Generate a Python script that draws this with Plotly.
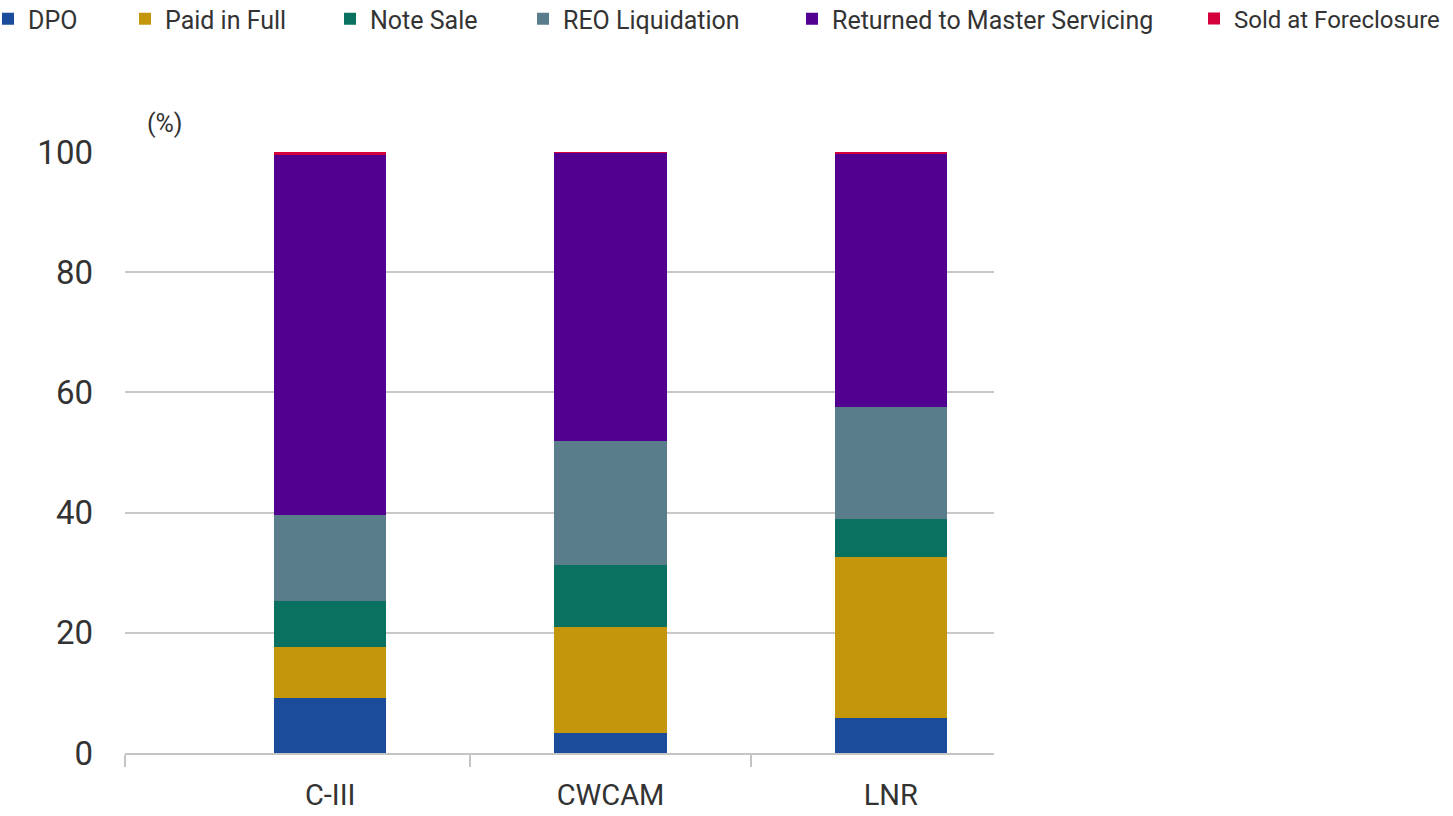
import plotly.graph_objects as go

categories = ["C-III", "CWCAM", "LNR"]
series_names = ["DPO", "Paid in Full", "Note Sale", "REO Liquidation",
                "Returned to Master Servicing", "Sold at Foreclosure"]
dpo = [9.2, 3.3, 5.8]
paid_in_full = [8.4, 17.7, 26.8]
note_sale = [7.7, 10.3, 6.3]
reo_liquidation = [14.3, 20.6, 18.7]
returned_master = [59.9, 48.0, 42.0]
sold_foreclosure = [0.5, 0.1, 0.4]
y_ticks = [0, 20, 40, 60, 80, 100]

values = [dpo, paid_in_full, note_sale, reo_liquidation, returned_master, sold_foreclosure]
colors = ["#1b4c9b", "#c4960c", "#0a7060", "#5a7d8c", "#520090", "#d4003c"]

W, H = 1453, 816
L, R, T, B = 125, W - 994, 152, H - 753
pw = W - L - R
ph = H - T - B

# legend text start positions (px) in reference
legend_text_px = [28, 165, 370, 563, 832, 1234]

FONT = "Roboto, sans-serif"

fig = go.Figure()
xpos = list(range(len(categories)))
for i, (name, vals, col) in enumerate(zip(series_names, values, colors)):
    lg = "legend" if i == 0 else f"legend{i+1}"
    fig.add_trace(go.Bar(
        x=xpos, y=vals, name=name, marker=dict(color=col, line=dict(width=0)),
        width=0.4, legend=lg,
        hovertemplate="%{customdata}: %{y}%<extra>" + name + "</extra>",
        customdata=categories,
    ))

legend_layouts = {}
for i, px in enumerate(legend_text_px):
    key = "legend" if i == 0 else f"legend{i+1}"
    legend_layouts[key] = dict(
        x=(px - 40 - L) / pw, y=(H - 19 - B) / ph, xanchor="left", yanchor="middle",
        orientation="h", bgcolor="rgba(0,0,0,0)", borderwidth=0,
        font=dict(family=FONT, size=25 if i < 5 else 24, color="#333333"),
        itemwidth=30,
    )

fig.update_layout(
    width=W, height=H,
    margin=dict(l=L, r=R, t=T, b=B, autoexpand=False),
    barmode="stack",
    plot_bgcolor="white", paper_bgcolor="white",
    showlegend=True,
    font=dict(family=FONT, color="#333333"),
    xaxis=dict(
        range=[-0.732, 2.368], tickmode="array", tickvals=xpos, ticktext=categories,
        ticks="", showgrid=False, zeroline=False,
        showline=True, linecolor="#c4c4c4", linewidth=2,
        ticklabelstandoff=15,
        tickfont=dict(size=29, color="#333333"),
        minor=dict(tickmode="array", tickvals=[-0.732, 0.5, 1.5], ticks="outside",
                   ticklen=12, tickcolor="#c4c4c4", tickwidth=1.5, showgrid=False),
    ),
    yaxis=dict(
        range=[0, 100], tickmode="array", tickvals=y_ticks,
        showgrid=True, gridcolor="#c8c8c8", gridwidth=2, zeroline=False,
        showline=False, ticks="", ticklabelstandoff=31,
        tickfont=dict(size=33, color="#333333"),
    ),
    annotations=[dict(
        text="(%)", xref="paper", yref="paper",
        x=(165 - L) / pw, y=(H - 123 - B) / ph,
        xanchor="center", yanchor="middle",
        showarrow=False, font=dict(size=25, color="#333333"),
    )],
    **legend_layouts,
)

fig.write_html("out.html")
